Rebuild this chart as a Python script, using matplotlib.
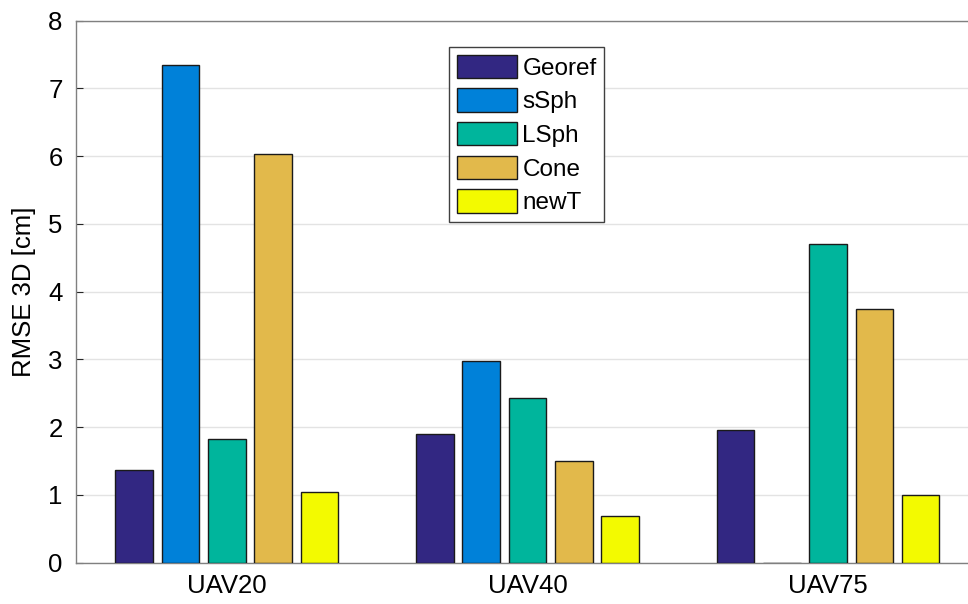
import matplotlib.pyplot as plt
import numpy as np

plt.rcParams['font.family'] = ['Liberation Sans', 'DejaVu Sans']

groups = ['UAV20', 'UAV40', 'UAV75']
series = ['Georef', 'sSph', 'LSph', 'Cone', 'newT']
georef = [1.37, 1.90, 1.96]
ssph = [7.35, 2.97, 0.0]
lsph = [1.82, 2.43, 4.70]
cone = [6.03, 1.50, 3.74]
newt = [1.04, 0.69, 1.00]
colors = ['#322782', '#0081D9', '#00B59C', '#E2B94B', '#F3FA00']

fig = plt.figure(figsize=(9.68, 6.04), dpi=100)
ax = fig.add_axes([0.079, 0.0687, 0.9317, 0.897])  # right edge runs off canvas like the original

x = np.arange(1, len(groups) + 1)
step = 0.154
w = 0.125
for i, (vals, name) in enumerate(zip([georef, ssph, lsph, cone, newt], series)):
    ax.bar(x + (i - 2) * step, vals, w, color=colors[i], edgecolor='#1a1a1a',
           linewidth=1.0, label=name, zorder=3)

ax.set_xlim(0.5, 3.5)
ax.set_ylim(0, 8)
ax.set_xticks(x)
ax.set_xticklabels(groups)
ax.set_yticks(range(0, 9))
ax.set_ylabel('RMSE 3D [cm]', fontsize=18.5, labelpad=9)
ax.tick_params(labelsize=18.5, direction='in', length=5, color='#262626')
ax.tick_params(axis='x', pad=8)
ax.tick_params(axis='y', pad=10)
ax.yaxis.grid(True, color='#e3e3e3', linewidth=1.0, zorder=0)
ax.set_axisbelow(True)
for s in ax.spines.values():
    s.set_color('#808080')
    s.set_linewidth(1.0)

leg = ax.legend(loc='upper left', bbox_to_anchor=(0.413, 0.9515), fontsize=17.5,
                handlelength=2.5, handleheight=1.1, labelspacing=0.36,
                handletextpad=0.2, borderpad=0.32, borderaxespad=0,
                fancybox=False, framealpha=1, edgecolor='#404040')
leg.get_frame().set_linewidth(1.0)

fig.savefig('out.png', dpi=100)
